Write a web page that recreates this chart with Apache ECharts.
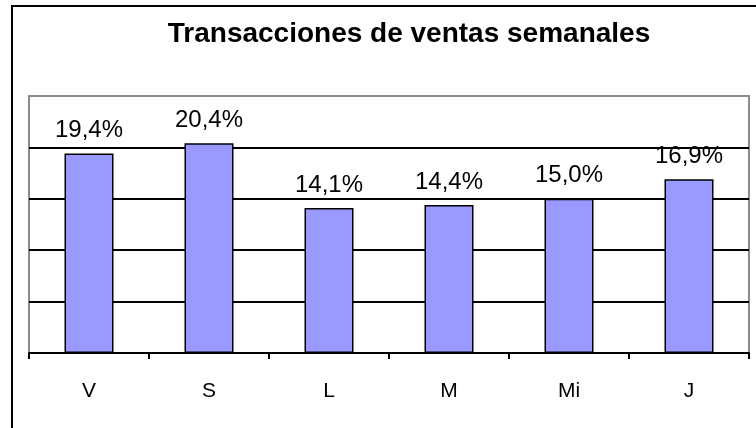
<!DOCTYPE html>
<html>
<head>
<meta charset="utf-8">
<script src="https://cdn.jsdelivr.net/npm/echarts@6/dist/echarts.min.js"></script>
<style>
  html, body { margin: 0; padding: 0; background: #fff; }
  #chart { width: 756px; height: 428px; }
</style>
</head>
<body>
<div id="chart"></div>
<script>
// datos
const dias = ['V', 'S', 'L', 'M', 'Mi', 'J']
const porcentajes = [19.4, 20.4, 14.1, 14.4, 15.0, 16.9]
const titulo = 'Transacciones de ventas semanales'

const font = 'Arial, "Liberation Sans", sans-serif'
const chart = echarts.init(document.getElementById('chart'))

const option = {
  backgroundColor: '#fff',
  animation: false,
  title: {
    text: titulo,
    left: 409,
    textAlign: 'center',
    top: 20,
    padding: 0,
    textStyle: { fontFamily: font, fontSize: 28, fontWeight: 'bold', color: '#000' }
  },
  graphic: [
    {
      // marco exterior del grafico
      type: 'rect',
      shape: { x: 12, y: 6, width: 1000, height: 1000 },
      style: { fill: 'none', stroke: '#000', lineWidth: 2 },
      silent: true
    }
  ],
  grid: {
    left: 29,
    right: 7,
    top: 96,
    bottom: 75,
    show: true,
    borderColor: '#8c8c8c',
    borderWidth: 2,
    backgroundColor: 'transparent'
  },
  xAxis: {
    type: 'category',
    data: dias,
    axisLine: { lineStyle: { color: '#000', width: 2 } },
    axisTick: { show: true, length: 6, lineStyle: { color: '#000', width: 2 } },
    axisLabel: { margin: 28, fontFamily: font, fontSize: 21, color: '#000' }
  },
  yAxis: {
    type: 'value',
    min: 0,
    max: 25,
    interval: 5,
    axisLine: { show: false },
    axisTick: { show: false },
    axisLabel: { show: false },
    splitLine: {
      show: true,
      lineStyle: { color: ['#000', '#000', '#000', '#000', '#000', '#8c8c8c'], width: 2 }
    }
  },
  series: [
    {
      type: 'bar',
      data: porcentajes,
      barWidth: 49,
      itemStyle: { color: '#9999ff', borderColor: '#000', borderWidth: 1.5 },
      label: {
        show: true,
        position: 'top',
        distance: 11,
        fontFamily: font,
        fontSize: 24,
        color: '#000',
        formatter: p => p.value.toFixed(1).replace('.', ',') + '%'
      }
    }
  ]
}
chart.setOption(option)
</script>
</body>
</html>
